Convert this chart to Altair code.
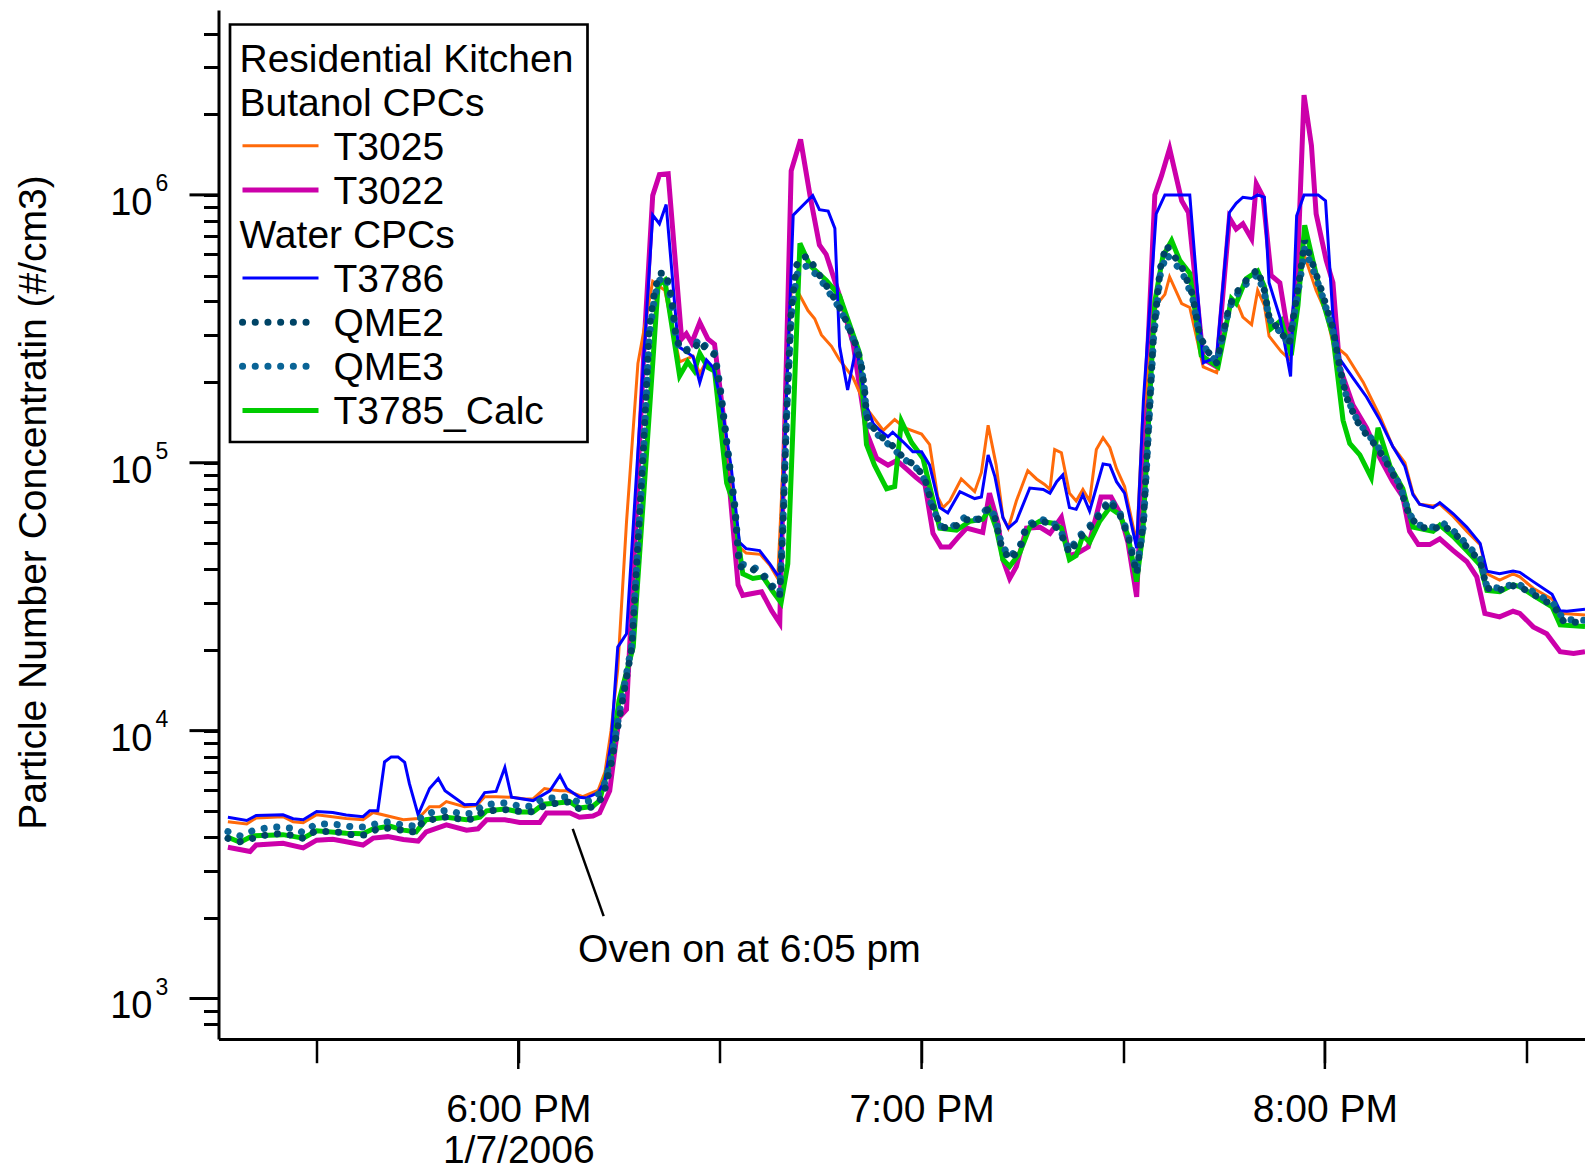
import altair as alt
import pandas as pd

FONT = "Liberation Sans"

# ---------------- data (minutes after 5:00 PM, particles/cm3) ----------------
T3025 = [(16.8,4570),(19.6,4480),(21.0,4720),(25.0,4770),(26.5,4570),(28.0,4530),(30.0,4850),(34.4,4700),(36.9,4650),(38.4,4950),(40.6,4800),(42.9,4650),(45.1,4700),(46.8,5200),(48.3,5200),(49.3,5430),(52.0,5200),(53.8,5250),(55.0,5670),(56.7,5670),(59.0,5640),(61.0,5560),(62.2,5560),(63.9,6080),(65.2,6000),(66.2,5960),(67.2,5960),(69.6,5670),(71.9,6000),(72.9,7000),(73.8,10000),(74.8,17000),(76.1,60000),(77.8,235000),(80.0,475000),(81.8,440000),(84.0,238000),(86.0,250000),(87.0,215000),(88.0,240000),(89.0,225000),(90.2,165000),(91.7,90000),(92.7,49000),(93.9,46000),(96.0,45500),(97.4,41500),(98.6,37000),(100.6,440000),(101.6,435000),(103.1,370000),(104.1,345000),(105.1,300000),(106.6,272000),(107.8,242000),(109.8,208000),(111.8,160000),(114.3,132000),(116.0,145000),(117.5,135000),(120.0,128000),(121.2,117000),(122.4,74500),(123.2,68000),(124.2,72000),(125.9,87000),(127.9,78000),(128.9,92000),(129.9,138000),(131.1,98000),(132.1,62500),(132.9,57000),(134.1,72000),(135.8,93500),(137.1,87000),(138.3,83000),(139.1,79500),(139.8,112000),(140.8,109000),(142.0,77000),(143.0,72000),(144.0,79500),(145.0,72000),(146.0,112000),(147.0,124000),(148.0,114000),(149.0,95000),(150.2,81500),(152.0,50000),(152.9,149000),(154.9,387000),(156.2,425000),(156.9,494000),(158.7,393000),(159.9,380000),(161.9,228000),(163.9,217000),(166.1,400000),(167.1,387000),(167.8,350000),(169.1,328000),(170.0,440000),(171.0,387000),(171.7,297000),(173.5,260000),(174.7,244000),(176.9,600000),(178.7,440000),(180.2,362000),(181.2,278000),(183.2,252000),(185.7,200000),(188.2,149000),(190.1,115000),(191.9,100000),(193.1,77000),(194.1,70000),(196.1,69000),(197.1,70000),(199.1,63000),(201.1,55500),(203.1,49500),(204.1,38500),(206.0,36500),(208.0,38500),(209.0,37500),(211.0,34000),(213.8,31000),(215.0,27400),(218.7,27000)]

T3022 = [(16.8,3670),(20.1,3540),(21.0,3740),(25.0,3800),(28.0,3650),(30.0,3900),(32.4,3930),(34.4,3850),(36.9,3740),(38.4,3970),(40.6,4020),(42.9,3920),(45.1,3870),(46.3,4190),(49.3,4450),(52.3,4250),(54.0,4300),(55.3,4650),(58.0,4650),(60.2,4540),(63.2,4540),(64.2,4930),(67.7,4930),(69.1,4750),(71.1,4800),(72.1,4930),(73.6,5960),(75.0,11200),(76.1,12000),(77.5,60000),(78.8,300000),(80.0,995000),(81.0,1190000),(82.3,1200000),(84.3,290000),(85.0,303000),(85.8,280000),(87.0,334000),(88.2,290000),(89.2,277000),(90.5,150000),(92.7,35000),(93.4,32000),(96.2,33000),(97.7,28000),(98.9,25200),(100.6,1230000),(102.0,1610000),(103.4,995000),(104.8,650000),(105.8,600000),(107.8,420000),(109.8,280000),(111.8,130000),(113.3,104000),(115.0,98000),(116.3,102000),(117.7,95000),(119.2,88000),(120.5,83000),(121.7,54500),(122.9,48500),(124.2,48500),(125.4,52500),(126.7,57000),(129.1,55000),(130.1,77000),(131.4,59000),(132.1,43500),(133.1,37000),(134.1,41000),(135.6,57000),(137.6,57500),(139.1,54500),(140.8,62500),(142.0,45000),(143.2,46000),(144.8,48500),(146.7,74500),(148.2,74500),(149.5,65000),(150.7,50500),(152.0,31600),(154.7,1000000),(155.7,1180000),(156.9,1490000),(158.7,950000),(159.7,860000),(161.9,244000),(163.9,228000),(165.8,820000),(166.8,745000),(167.8,780000),(169.1,685000),(169.8,1100000),(170.8,985000),(172.0,500000),(173.3,470000),(174.7,287000),(175.8,440000),(176.9,2360000),(178.0,1530000),(178.7,850000),(180.2,570000),(181.2,470000),(182.2,228000),(184.2,164000),(186.2,135000),(188.2,104000),(190.1,85000),(191.6,74500),(192.6,55500),(193.9,49500),(195.6,49500),(197.1,52000),(199.1,47000),(201.1,42800),(202.6,37500),(203.8,27400),(206.0,26600),(208.0,27900),(209.0,27400),(211.0,24400),(213.0,23000),(215.0,19700),(217.0,19400),(218.7,19700)]

T3786 = [(16.8,4750),(19.6,4620),(21.0,4820),(25.0,4850),(26.5,4690),(28.0,4650),(30.0,4990),(32.4,4950),(34.4,4840),(36.9,4770),(37.9,5020),(39.1,5020),(40.1,7640),(41.1,7980),(42.1,7980),(43.1,7610),(43.8,6340),(45.1,4850),(46.8,6080),(48.1,6620),(49.1,5960),(52.0,5290),(53.8,5310),(55.0,5870),(56.7,5930),(58.0,7280),(59.0,5640),(62.2,5480),(64.7,5960),(66.2,6800),(67.2,6080),(69.1,5640),(70.1,5600),(71.9,5870),(72.9,6540),(73.8,9000),(74.8,20500),(76.1,23000),(80.0,840000),(81.0,780000),(82.0,920000),(83.8,272000),(86.0,249000),(87.0,199000),(88.0,242000),(89.0,227000),(90.2,168000),(91.7,95000),(92.9,50500),(93.9,47800),(95.9,47000),(97.4,42000),(98.9,37000),(100.9,840000),(103.8,995000),(104.8,880000),(106.1,870000),(107.1,750000),(107.8,272000),(109.0,187000),(110.3,272000),(111.8,163000),(112.8,140000),(113.8,132000),(115.0,125000),(115.7,130000),(117.2,120000),(118.7,110000),(120.0,110000),(121.2,98000),(122.7,68000),(123.9,65000),(125.7,78000),(127.9,73500),(128.9,74500),(129.9,107000),(130.9,89000),(132.1,62500),(132.9,57000),(134.1,60500),(136.1,80500),(138.1,79500),(139.1,77000),(140.1,85000),(141.0,90000),(142.0,68000),(143.0,67000),(144.0,76000),(145.0,66000),(147.0,99000),(148.0,98000),(149.0,85000),(150.2,77000),(152.0,48000),(153.0,170000),(154.9,850000),(156.2,1000000),(159.9,1000000),(161.9,236000),(163.9,248000),(165.8,860000),(166.8,930000),(167.8,980000),(169.1,970000),(170.0,1000000),(171.0,980000),(171.7,470000),(173.3,350000),(174.9,210000),(175.8,835000),(176.9,1000000),(179.0,1000000),(180.1,950000),(181.2,350000),(182.2,244000),(184.2,207000),(186.2,176000),(188.2,144000),(190.1,115000),(191.9,97000),(193.1,76000),(194.1,70000),(196.1,68000),(197.1,71000),(199.1,64500),(201.1,57500),(203.1,50000),(204.1,39400),(206.0,38500),(208.0,39400),(209.0,39000),(211.0,36000),(213.8,32300),(215.0,28000),(216.0,27900),(218.7,28400)]

QME2 = [(16.8,3960),(18.6,3850),(20.5,3960),(22.5,4080),(24.3,4120),(26.0,4080),(28.0,3960),(29.7,4200),(31.7,4200),(33.4,4170),(35.4,4080),(37.2,4080),(39.1,4300),(40.9,4330),(42.6,4250),(44.6,4180),(45.8,4570),(47.6,4680),(49.5,4770),(51.3,4680),(53.3,4670),(54.7,4980),(56.5,5040),(58.2,5070),(60.2,4990),(61.9,4980),(63.7,5220),(65.4,5340),(67.4,5420),(69.1,5100),(71.1,5190),(72.6,5660),(73.8,7500),(75.0,11000),(76.9,20500),(78.6,110000),(79.5,320000),(80.3,440000),(81.0,510000),(82.0,510000),(82.8,415000),(83.5,290000),(84.3,264000),(85.8,260000),(87.0,285000),(88.0,264000),(89.2,253000),(90.0,190000),(90.7,137000),(91.4,98000),(92.2,68000),(92.9,41000),(93.9,40500),(94.9,40000),(96.4,38000),(97.9,34000),(98.9,32000),(99.4,60000),(99.9,150000),(100.6,370000),(101.4,545000),(101.9,580000),(103.1,590000),(104.4,520000),(105.3,480000),(106.3,440000),(107.3,400000),(108.3,360000),(109.3,316000),(110.3,272000),(111.0,235000),(111.5,190000),(111.8,150000),(112.3,140000),(114.0,125000),(115.5,117000),(117.2,105000),(119.2,97000),(120.5,87000),(121.5,70500),(122.9,57500),(124.7,57000),(126.4,61500),(128.2,60500),(129.9,67000),(130.9,62500),(131.9,48500),(133.1,43500),(134.6,47500),(135.6,57500),(137.6,60500),(139.3,59500),(140.5,56000),(142.0,46000),(143.5,52500),(144.5,55000),(146.0,61500),(148.0,72000),(149.5,64000),(150.7,53500),(152.0,38500),(153.0,60000),(154.5,300000),(155.5,530000),(156.4,650000),(158.7,540000),(160.3,425000),(161.4,297000),(162.6,260000),(163.9,236000),(165.8,387000),(167.1,440000),(168.3,480000),(170.0,527000),(171.0,440000),(171.7,350000),(173.3,310000),(174.7,278000),(176.3,500000),(177.0,675000),(178.2,550000),(179.5,440000),(181.2,317000),(182.2,228000),(183.2,176000),(184.7,144000),(186.2,127000),(187.7,115000),(189.2,100000),(191.1,82000),(192.6,63000),(194.1,57500),(196.1,56500),(197.6,58500),(199.6,53500),(201.6,47000),(203.1,43000),(204.1,34000),(206.0,33500),(208.5,35000),(211.0,32300),(214.0,29300),(215.5,25600),(218.7,25200)]

QME3 = [(16.8,4200),(18.6,4050),(20.5,4230),(22.5,4330),(24.3,4370),(26.0,4330),(28.0,4170),(29.7,4450),(31.7,4490),(33.4,4450),(35.4,4370),(37.2,4370),(39.1,4510),(40.9,4570),(42.6,4450),(44.6,4400),(45.8,4840),(47.6,4980),(49.5,5040),(51.3,4900),(53.3,4900),(54.7,5260),(56.5,5340),(58.2,5380),(60.2,5220),(61.9,5220),(63.7,5570),(65.4,5620),(67.4,5660),(69.1,5380),(71.1,5500),(72.6,6050),(73.8,7800),(75.0,11500),(76.9,21000),(78.6,105000),(79.5,300000),(80.3,420000),(81.0,480000),(82.0,495000),(82.8,400000),(83.5,285000),(84.3,262000),(85.8,268000),(87.0,290000),(88.0,270000),(89.2,258000),(90.0,195000),(90.7,140000),(91.4,100000),(92.2,70000),(92.9,42000),(93.9,41500),(94.9,41000),(96.4,38500),(97.9,34500),(98.9,32500),(99.4,62000),(99.9,145000),(100.6,350000),(101.4,500000),(101.9,530000),(103.1,545000),(104.4,500000),(105.3,470000),(106.3,430000),(107.3,395000),(108.3,355000),(109.3,312000),(110.3,270000),(111.0,232000),(111.5,188000),(111.8,150000),(112.3,138000),(114.0,123000),(115.5,115000),(117.2,104000),(119.2,96000),(120.5,86000),(121.5,69000),(122.9,58000),(124.7,58000),(126.4,62500),(128.2,61500),(129.9,68000),(130.9,63500),(131.9,49500),(133.1,44500),(134.6,48500),(135.6,58500),(137.6,61500),(139.3,60500),(140.5,57000),(142.0,47000),(143.5,53500),(144.5,56000),(146.0,62500),(148.0,73000),(149.5,65000),(150.7,54500),(152.0,39500),(153.0,58000),(154.5,290000),(155.5,500000),(156.4,600000),(158.7,520000),(160.3,415000),(161.4,292000),(162.6,258000),(163.9,238000),(165.8,380000),(167.1,430000),(168.3,465000),(170.0,505000),(171.0,430000),(171.7,345000),(173.3,308000),(174.7,276000),(176.3,480000),(177.0,630000),(178.2,530000),(179.5,430000),(181.2,312000),(182.2,226000),(183.2,177000),(184.7,146000),(186.2,129000),(187.7,117000),(189.2,101000),(191.1,83000),(192.6,64000),(194.1,58500),(196.1,57500),(197.6,59500),(199.6,54500),(201.6,48000),(203.1,44000),(204.1,34500),(206.0,34000),(208.5,35500),(211.0,33000),(214.0,29800),(215.5,26000),(218.7,25800)]

T3785_Calc = [(16.8,4000),(18.6,3830),(20.5,4050),(25.0,4090),(28.0,3970),(30.0,4230),(34.4,4140),(36.9,4120),(38.4,4300),(40.9,4400),(42.9,4250),(44.8,4190),(46.3,4650),(49.3,4750),(52.3,4650),(54.3,4750),(55.3,5020),(58.0,5100),(60.2,4970),(62.2,4970),(63.7,5310),(67.7,5420),(69.1,5140),(71.1,5220),(72.1,5480),(73.8,8000),(75.0,13000),(77.1,20500),(80.8,460000),(81.8,480000),(84.0,211000),(85.2,238000),(86.2,220000),(87.0,256000),(88.2,227000),(89.2,220000),(91.0,84000),(91.9,72000),(93.4,38500),(94.9,37000),(96.4,37500),(97.9,33000),(99.1,30000),(100.1,42000),(101.9,660000),(103.4,545000),(105.8,480000),(107.8,420000),(110.8,256000),(111.8,117000),(113.0,98000),(114.8,80000),(116.0,81500),(117.0,143000),(118.5,119000),(120.2,104000),(122.7,57000),(125.2,56000),(127.2,60500),(129.1,61500),(130.1,67000),(131.1,57000),(132.1,43500),(133.1,41000),(134.6,46000),(136.1,57500),(137.6,60500),(139.5,59500),(140.8,57000),(142.0,43500),(143.0,45000),(144.0,53500),(145.0,50500),(146.5,60500),(148.0,68000),(149.5,64000),(150.7,53500),(152.0,36000),(152.9,54000),(154.7,400000),(155.9,590000),(157.2,675000),(158.4,570000),(159.9,510000),(161.6,252000),(164.1,228000),(166.1,410000),(166.8,393000),(168.3,487000),(170.0,520000),(171.0,455000),(172.0,317000),(173.5,340000),(175.0,252000),(176.0,387000),(177.0,770000),(178.2,570000),(179.7,400000),(181.2,297000),(182.7,144000),(183.7,118000),(185.2,107000),(186.9,88000),(187.9,135000),(189.7,97000),(191.6,80000),(193.1,57500),(196.1,55500),(197.1,58500),(199.1,53000),(201.1,47000),(203.1,41500),(204.1,33400),(206.0,33000),(208.0,35000),(209.0,34500),(211.0,32000),(213.8,29000),(215.0,24800),(218.7,24500)]

SERIES_DATA = {"T3025": T3025, "T3022": T3022, "T3786": T3786,
               "QME2": QME2, "QME3": QME3, "T3785_Calc": T3785_Calc}

# x axis ticks (minutes after 5:00 PM) and labels
X_TICKS = [30, 60, 90, 120, 150, 180, 210]
HOUR_TICKS = [60, 120, 180]
HOUR_LABELS = [["6:00 PM", "1/7/2006"], ["7:00 PM"], ["8:00 PM"]]

# y decades and exponent labels
DECADES = [1e3, 1e4, 1e5, 1e6]
EXPONENTS = ["3", "4", "5", "6"]

LEGEND_ROWS = ["Residential Kitchen", "Butanol CPCs", "T3025", "T3022",
               "Water CPCs", "T3786", "QME2", "QME3", "T3785_Calc"]
HEADERS = {"Residential Kitchen", "Butanol CPCs", "Water CPCs"}

Y_TITLE = "Particle Number Concentratin (#/cm3)"
ANNOT_TEXT = "Oven on at 6:05 pm"
ANNOT_LINE = [(68.1, 4300), (72.7, 2030)]
ANNOT_TEXT_POS = (68.9, 1545)

# ---------------- styles ----------------
DOT = [0.1, 12.6]
STYLE = {
    "T3025": dict(color="#FF6A0A", strokeWidth=3),
    "T3022": dict(color="#CC00AA", strokeWidth=5),
    "T3786": dict(color="#0000FF", strokeWidth=3),
    "QME2": dict(color="#004466", strokeWidth=7, strokeDash=DOT, strokeCap="round"),
    "QME3": dict(color="#0A6496", strokeWidth=7, strokeDash=DOT, strokeCap="round"),
    "T3785_Calc": dict(color="#00CC00", strokeWidth=5),
}
DRAW_ORDER = ["T3022", "T3025", "T3785_Calc", "T3786", "QME3", "QME2"]

X_DOMAIN = [15.4, 218.7]
Y_DOMAIN = [706, 4.9e6]
LEFT, TOP, BOTTOM = 218.5, 10, 132
W = 1585 - LEFT
H = 1171 - TOP - BOTTOM
FS = 39

xscale = alt.Scale(domain=X_DOMAIN, nice=False, zero=False)
yscale = alt.Scale(type="log", domain=Y_DOMAIN, nice=False)

minor_y = [k * 10 ** e for e in range(2, 7) for k in range(1, 10)
           if Y_DOMAIN[0] <= k * 10 ** e <= Y_DOMAIN[1]]

label_expr = " : ".join(
    f"datum.value == {t} ? {lab!r}" for t, lab in zip(HOUR_TICKS, HOUR_LABELS)
) + " : ''"

x_axis = alt.Axis(values=X_TICKS, labelExpr=label_expr, tickSize=23.7, tickWidth=2.5,
                  tickColor="black", domainColor="black", domainWidth=3, grid=False,
                  title=None, labelFont=FONT, labelFontSize=FS, labelColor="black",
                  labelPadding=27.5, labelLineHeight=41.5, labelBaseline="top",
                  labelAlign="center", labelOverlap=False, labelFlush=False)
y_axis = alt.Axis(values=minor_y, labels=False, tickSize=15, tickWidth=3,
                  tickColor="black", domainColor="black", domainWidth=3, grid=False,
                  title=Y_TITLE, titleFont=FONT,
                  titleFontSize=FS, titleFontWeight="normal", titleColor="black",
                  titleX=-184.6, titleY=492, titleAngle=270, titleAlign="center",
                  titleBaseline="middle")

# All layers share the x/y scales; the axis is defined once (first layer) and the
# other layers leave it undefined so the explicit settings win the merge.
def X(field, first=False):
    return alt.X(field, scale=xscale, axis=x_axis) if first else alt.X(field, scale=xscale)

def Y(field, first=False):
    return alt.Y(field, scale=yscale, axis=y_axis) if first else alt.Y(field, scale=yscale)

layers = []
for i, name in enumerate(DRAW_ORDER):
    pairs = SERIES_DATA[name]
    df = pd.DataFrame({"minute": [p[0] for p in pairs], "value": [p[1] for p in pairs]})
    layers.append(
        alt.Chart(df).mark_line(clip=True, **STYLE[name]).encode(
            x=X("minute:Q", i == 0), y=Y("value:Q", i == 0))
    )

# longer hour ticks on x axis
layers.append(
    alt.Chart(pd.DataFrame({"minute": HOUR_TICKS})).mark_rule(color="black", strokeWidth=2.5).encode(
        x=X("minute:Q"), y=alt.value(H), y2=alt.value(H + 30))
)
# longer decade ticks on y axis and their labels
dec_df = pd.DataFrame({"value": DECADES, "base": ["10"] * len(DECADES), "exp": EXPONENTS})
layers.append(
    alt.Chart(dec_df).mark_rule(color="black", strokeWidth=3).encode(
        y=Y("value:Q"), x=alt.value(-29), x2=alt.value(0))
)
layers.append(
    alt.Chart(dec_df).mark_text(align="right", baseline="middle", font=FONT, fontSize=38,
                                color="black", dy=9).encode(
        y=Y("value:Q"), x=alt.value(-66), text="base:N")
)
layers.append(
    alt.Chart(dec_df).mark_text(align="left", baseline="middle", font=FONT, fontSize=23,
                                color="black", dy=-10.5).encode(
        y=Y("value:Q"), x=alt.value(-63), text="exp:N")
)

# annotation
ann_df = pd.DataFrame({"minute": [ANNOT_LINE[0][0]], "value": [ANNOT_LINE[0][1]],
                       "minute2": [ANNOT_LINE[1][0]], "value2": [ANNOT_LINE[1][1]]})
layers.append(
    alt.Chart(ann_df).mark_rule(color="black", strokeWidth=2.5).encode(
        x=X("minute:Q"), y=Y("value:Q"), x2="minute2:Q", y2="value2:Q")
)
ann_t = pd.DataFrame({"minute": [ANNOT_TEXT_POS[0]], "value": [ANNOT_TEXT_POS[1]], "t": [ANNOT_TEXT]})
layers.append(
    alt.Chart(ann_t).mark_text(align="left", baseline="middle", font=FONT, fontSize=FS,
                               color="black", dy=2).encode(
        x=X("minute:Q"), y=Y("value:Q"), text="t:N")
)

# legend box, text and symbols
one = pd.DataFrame({"a": [0]})
layers.append(
    alt.Chart(one).mark_rect(fill="white", stroke="black", strokeWidth=2.7).encode(
        x=alt.value(11.5), x2=alt.value(369), y=alt.value(14.5), y2=alt.value(432))
)
ROW0, ROWH = 47.6, 44.1
for i, r in enumerate(LEGEND_ROWS):
    ry = ROW0 + i * ROWH
    lx = 21 if r in HEADERS else 115
    layers.append(
        alt.Chart(one).mark_text(align="left", baseline="middle", font=FONT, fontSize=FS,
                                 color="black", dy=2).encode(
            x=alt.value(lx), y=alt.value(ry), text=alt.value(r))
    )
    if r in HEADERS:
        continue
    st = dict(STYLE[r])
    x_end = 88.5 if "strokeDash" in st else 100
    layers.append(
        alt.Chart(one).mark_rule(**st).encode(
            x=alt.value(24), x2=alt.value(x_end), y=alt.value(ry))
    )

chart = alt.layer(*layers).properties(
    width=W, height=H,
    autosize=alt.AutoSizeParams(type="none"),
    padding={"left": LEFT, "top": TOP, "right": 0, "bottom": BOTTOM},
    background="white",
).configure_view(stroke=None)

chart.save("out.html", embed_options={"renderer": "svg", "actions": False})
